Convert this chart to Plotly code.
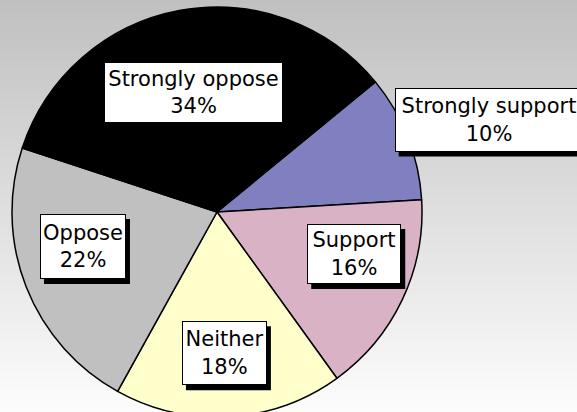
import math
import plotly.graph_objects as go

# Survey responses, listed clockwise starting from the upper-right wedge
categories = ["Strongly support", "Support", "Neither", "Oppose", "Strongly oppose"]
shares = [10, 16, 18, 22, 34]
slice_colors = ["#8080c0", "#d9b2c6", "#ffffcc", "#c0c0c0", "#000000"]

# Canvas and pie geometry (pixels)
W, H = 577, 424
CX, CY, R = 217, 212, 205
ROTATION = 50.6

# Label box placement: radial fraction and angular nudge relative to slice middle
label_radius = [1.40, 0.70, 0.69, 0.675, 0.594]
label_angle_shift = [2.6, -8.4, 0.4, 7.0, -0.5]
box_sizes = [(188, 64), (94, 60), (85, 64), (86, 65), (179, 61)]
SHADOW_DX, SHADOW_DY = 4, 5

fig = go.Figure()

fig.add_trace(go.Pie(
    labels=categories,
    values=shares,
    sort=False,
    direction="clockwise",
    rotation=ROTATION,
    marker=dict(colors=slice_colors, line=dict(color="#000000", width=1.5)),
    textinfo="none",
    hoverinfo="label+percent",
    showlegend=False,
    domain=dict(x=[(CX - R) / W, (CX + R) / W],
                y=[1 - (CY + R) / H, 1 - (CY - R) / H]),
))

# Vertical grey-to-white gradient backdrop
shapes = []
n_bands = 106
for i in range(n_bands):
    t = i / (n_bands - 1)
    g = round(192 + (252 - 192) * min(1.0, t * H / 412))
    shapes.append(dict(
        type="rect", xref="paper", yref="paper",
        x0=0, x1=1, y0=1 - (i + 1) / n_bands, y1=1 - i / n_bands,
        fillcolor=f"rgb({g},{g},{g})", line=dict(width=0), layer="below",
    ))

# Data labels in white boxes with a black drop shadow
annotations = []
total = sum(shares)
start = ROTATION
font = dict(family="DejaVu Sans, Verdana, sans-serif", size=21, color="#000000")
for i, (name, v) in enumerate(zip(categories, shares)):
    sweep = 360 * v / total
    mid = start + sweep / 2 + label_angle_shift[i]
    start += sweep
    r = R * label_radius[i]
    px = CX + r * math.sin(math.radians(mid))
    py = CY - r * math.cos(math.radians(mid))
    bw, bh = box_sizes[i]
    shapes.append(dict(
        type="rect", xref="paper", yref="paper", layer="above",
        x0=(px - bw / 2 + SHADOW_DX) / W, x1=(px + bw / 2 + SHADOW_DX) / W,
        y0=1 - (py + bh / 2 + SHADOW_DY) / H, y1=1 - (py - bh / 2 + SHADOW_DY) / H,
        fillcolor="#000000", line=dict(width=0),
    ))
    annotations.append(dict(
        x=px / W, y=1 - py / H, xref="paper", yref="paper",
        xanchor="center", yanchor="middle", showarrow=False,
        width=bw - 2, height=bh - 2, borderpad=0, borderwidth=1,
        align="center", valign="middle",
        text=f"{name}<br>{round(100 * v / total)}%",
        bgcolor="#ffffff", bordercolor="#000000", font=font,
    ))

fig.update_layout(
    width=W, height=H,
    margin=dict(l=0, r=0, t=0, b=0),
    paper_bgcolor="#ffffff",
    shapes=shapes,
    annotations=annotations,
)

fig.write_html(
    "out.html",
    config=dict(displayModeBar=False),
    post_script="document.body.style.margin='0';document.body.style.overflow='hidden';",
)
